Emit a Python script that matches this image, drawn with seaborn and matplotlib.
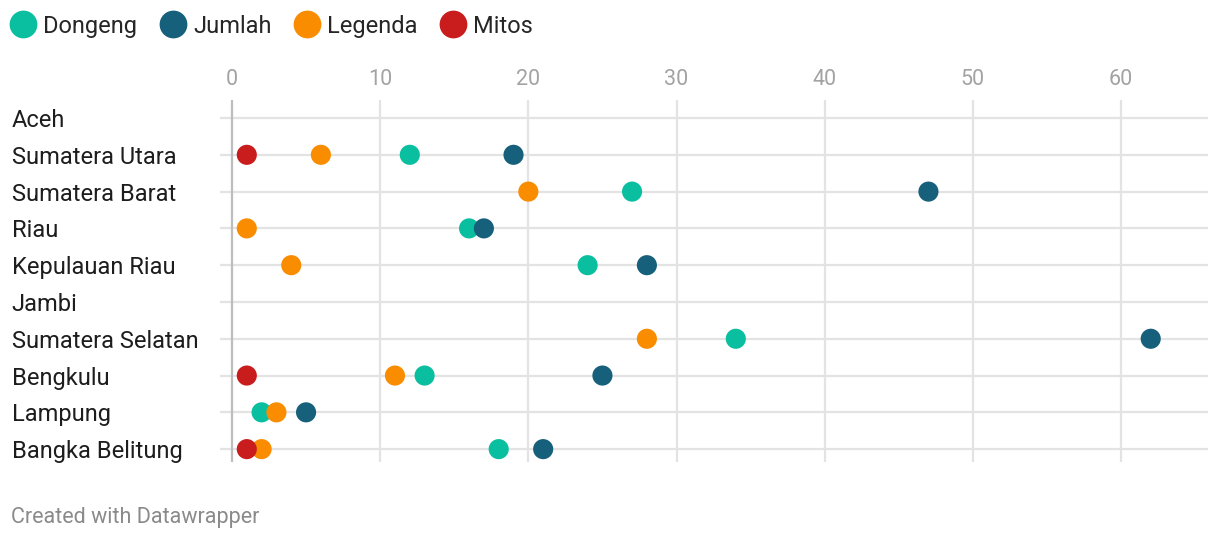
import matplotlib.pyplot as plt
import seaborn as sns
import pandas as pd
import numpy as np
from matplotlib.lines import Line2D

provinces = ['Aceh', 'Sumatera Utara', 'Sumatera Barat', 'Riau', 'Kepulauan Riau',
             'Jambi', 'Sumatera Selatan', 'Bengkulu', 'Lampung', 'Bangka Belitung']
dongeng = [np.nan, 12, 27, 16, 24, np.nan, 34, 13, 2, 18]
jumlah = [np.nan, 19, 47, 17, 28, np.nan, 62, 25, 5, 21]
legenda = [np.nan, 6, 20, 1, 4, np.nan, 28, 11, 3, 2]
mitos = [np.nan, 1, np.nan, np.nan, np.nan, np.nan, np.nan, 1, np.nan, 1]

series = ['Dongeng', 'Jumlah', 'Legenda', 'Mitos']
colors = {'Dongeng': '#0abfa0', 'Jumlah': '#17607b', 'Legenda': '#fa8c00', 'Mitos': '#c91d1d'}
xticks = [0, 10, 20, 30, 40, 50, 60]

wide = pd.DataFrame({'Provinsi': provinces, 'Dongeng': dongeng, 'Jumlah': jumlah,
                     'Legenda': legenda, 'Mitos': mitos})
df = wide.melt(id_vars='Provinsi', var_name='Jenis', value_name='Nilai').dropna()
df['row'] = df['Provinsi'].map({p: i for i, p in enumerate(provinces)})

sns.set_style('white')
plt.rcParams['font.family'] = ['Roboto', 'DejaVu Sans']

fig = plt.figure(figsize=(12.2, 5.42), dpi=100)
ax = fig.add_axes([0.1803, 0.1476, 0.8098, 0.6679])

# grid first
for i in range(len(provinces)):
    ax.axhline(i, color='#e3e3e3', lw=1.6, zorder=0)
for t in xticks:
    ax.axvline(t, color='#bdbdbd' if t == 0 else '#e3e3e3', lw=1.6, zorder=0)

sns.scatterplot(data=df, x='Nilai', y='row', hue='Jenis', hue_order=series,
                palette=colors, s=210, edgecolor='none', legend=False, ax=ax, zorder=3)

ax.set_xlim(-0.81, 65.86)
ax.set_ylim(9.35, -0.49)
ax.set_xticks(xticks)
ax.set_yticks(range(len(provinces)))
ax.set_yticklabels(provinces)
ax.xaxis.tick_top()
ax.tick_params(axis='x', length=0, pad=7, labelsize=15.5, labelcolor='#a3a3a3')
ax.tick_params(axis='y', length=0, pad=150, labelsize=17, labelcolor='#1d1d1d')
for lbl in ax.get_yticklabels():
    lbl.set_horizontalalignment('left')
ax.set_xlabel('')
ax.set_ylabel('')
for sp in ax.spines.values():
    sp.set_visible(False)

handles = [Line2D([], [], marker='o', ls='', markersize=20, markerfacecolor=colors[s],
                  markeredgecolor='none', label=s) for s in series]
fig.legend(handles=handles, loc='center left', bbox_to_anchor=(-0.007, 0.952), ncol=4,
           frameon=False, fontsize=17, handletextpad=0.2, columnspacing=0.85,
           borderaxespad=0.3, handlelength=1.3)

fig.text(0.009, 0.035, 'Created with Datawrapper', fontsize=15.5, color='#8a8a8a')

plt.savefig('out.png', dpi=100)
